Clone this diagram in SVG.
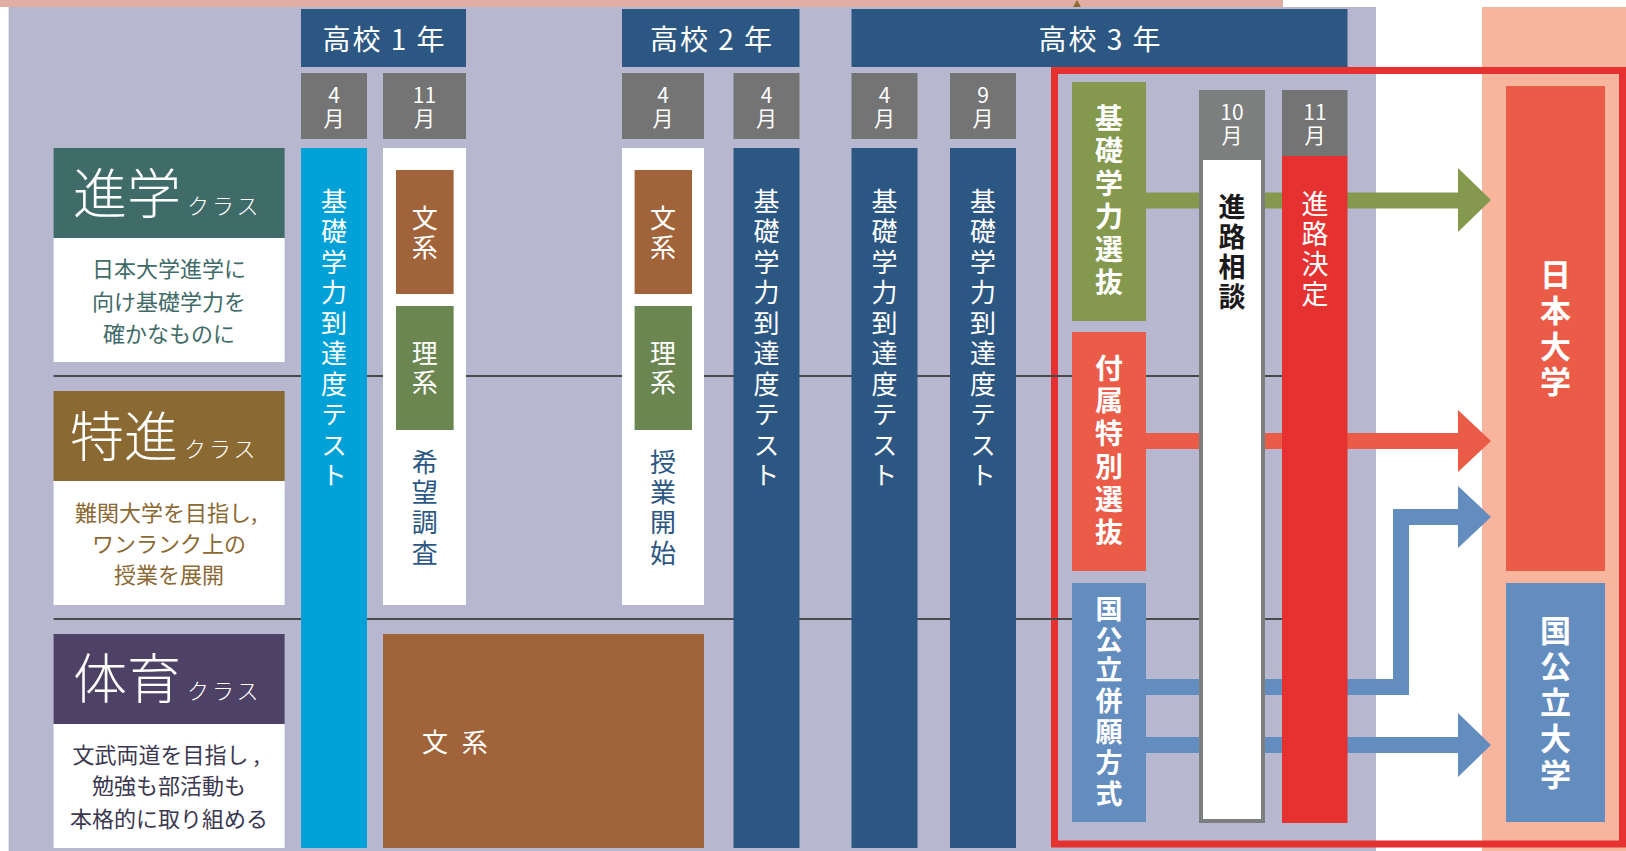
<svg xmlns="http://www.w3.org/2000/svg" width="1626" height="851" viewBox="0 0 1626 851">
<style>
text{font-family:'Noto Sans CJK JP','Noto Sans',sans-serif;}
.hdr{fill:#2c5783;}
.hdrt{fill:#fff;font-size:28px;text-anchor:middle;letter-spacing:2px;}
.mon{fill:#737473;}
.mont{fill:#fff;font-size:21px;text-anchor:middle;}
.v{writing-mode:vertical-rl;text-orientation:upright;}
.f26{font-size:26px;}
.f27{font-size:27px;}
.f28{font-size:28px;}
.f31{font-size:31px;}
.w{fill:#fff;}
.bar{fill:#2c5783;}
.cls{fill:#fff;font-weight:300;}
.big{font-size:54px;}
.sm{font-size:22px;letter-spacing:3px;}
.desc{font-size:22px;text-anchor:middle;}
.div{stroke:#4a4a4a;stroke-width:2;}
.b{font-weight:bold;}
</style>
<g id="background">
<rect x="0" y="0" width="1626" height="851" fill="#fff"/>
<rect x="0" y="0" width="1283" height="7" fill="#e0aea5"/>
<polygon points="1073,7 1077,0 1081,7" fill="#8b6933"/>
<rect x="8.6" y="7" width="1367.4" height="844" fill="#b7b8cf"/>
<rect x="1482" y="7" width="144" height="844" fill="#f7b59e"/>
<rect x="1054.5" y="70.5" width="568" height="773.5" fill="none" stroke="#e53130" stroke-width="7"/>
<line class="div" x1="53.6" y1="376" x2="1290" y2="376"/>
<line class="div" x1="53.6" y1="619" x2="1290" y2="619"/>
</g>
<g id="connectors">
<polygon points="1146,192.5 1458,192.5 1458,168 1491,200 1458,232 1458,208.5 1146,208.5" fill="#84984e"/>
<polygon points="1146,433 1458,433 1458,410 1491,441 1458,472 1458,449 1146,449" fill="#ea5c47"/>
<polygon points="1146,679 1393,679 1393,509 1458,509 1458,486 1491,517 1458,548 1458,525 1409,525 1409,695 1146,695" fill="#648dbf"/>
<polygon points="1146,737 1458,737 1458,713 1491,745 1458,777 1458,753 1146,753" fill="#648dbf"/>
</g>
<g id="year1">
<rect class="hdr" x="301" y="9" width="165" height="58"/>
<text class="hdrt" x="384.5" y="50">高校 1 年</text>
</g>
<g id="year2">
<rect class="hdr" x="622" y="9" width="177.5" height="58"/>
<text class="hdrt" x="712" y="50">高校 2 年</text>
</g>
<g id="year3">
<rect class="hdr" x="851.5" y="9" width="496" height="58"/>
<text class="hdrt" x="1100.5" y="50">高校 3 年</text>
</g>
<g id="m1"><rect class="mon" x="301" y="73" width="66" height="66"/><text class="mont"><tspan x="334" y="103">4</tspan><tspan x="334" y="126">月</tspan></text></g>
<g id="m2"><rect class="mon" x="383" y="73" width="83" height="66"/><text class="mont"><tspan x="424.5" y="103">11</tspan><tspan x="424.5" y="126">月</tspan></text></g>
<g id="m3"><rect class="mon" x="622" y="73" width="82" height="66"/><text class="mont"><tspan x="663" y="103">4</tspan><tspan x="663" y="126">月</tspan></text></g>
<g id="m4"><rect class="mon" x="733.5" y="73" width="66" height="66"/><text class="mont"><tspan x="766.5" y="103">4</tspan><tspan x="766.5" y="126">月</tspan></text></g>
<g id="m5"><rect class="mon" x="851.5" y="73" width="66" height="66"/><text class="mont"><tspan x="884.5" y="103">4</tspan><tspan x="884.5" y="126">月</tspan></text></g>
<g id="m6"><rect class="mon" x="950" y="73" width="66" height="66"/><text class="mont"><tspan x="983" y="103">9</tspan><tspan x="983" y="126">月</tspan></text></g>
<g id="class-shingaku">
<rect x="53.6" y="148" width="231" height="90" fill="#3f6b68"/>
<rect x="53.6" y="238" width="231" height="124" fill="#fff"/>
<text class="cls" x="73" y="214"><tspan class="big">進学</tspan><tspan class="sm" dx="6">クラス</tspan></text>
<text class="desc" fill="#3f6b68"><tspan x="169" y="277">日本大学進学に</tspan><tspan x="169" y="310">向け基礎学力を</tspan><tspan x="169" y="342">確かなものに</tspan></text>
</g>
<g id="class-tokushin">
<rect x="53.6" y="391" width="231" height="90" fill="#8b6933"/>
<rect x="53.6" y="481" width="231" height="124" fill="#fff"/>
<text class="cls" x="70" y="457"><tspan class="big">特進</tspan><tspan class="sm" dx="6">クラス</tspan></text>
<text class="desc" fill="#8b6933"><tspan x="166" y="521">難関大学を目指し,</tspan><tspan x="169" y="552">ワンランク上の</tspan><tspan x="169" y="583">授業を展開</tspan></text>
</g>
<g id="class-taiiku">
<rect x="53.6" y="634" width="231" height="90" fill="#4d4266"/>
<rect x="53.6" y="724" width="231" height="124" fill="#fff"/>
<text class="cls" x="73" y="699"><tspan class="big">体育</tspan><tspan class="sm" dx="6">クラス</tspan></text>
<text class="desc" fill="#3b3850"><tspan x="166" y="763">文武両道を目指し ,</tspan><tspan x="169" y="794">勉強も部活動も</tspan><tspan x="169" y="827">本格的に取り組める</tspan></text>
</g>
<g id="test1">
<rect x="301" y="148" width="66" height="700" fill="#00a1d7"/>
<text class="v w f26" x="334" y="188" letter-spacing="4.5">基礎学力到達度テスト</text>
</g>
<g id="survey">
<rect x="383" y="148" width="83" height="457" fill="#fff"/>
<rect x="396" y="170" width="57.6" height="124" fill="#a1643a"/>
<text class="v w f26" x="424.8" y="205" letter-spacing="3">文系</text>
<rect x="396" y="306" width="57.6" height="124" fill="#6b8651"/>
<text class="v w f26" x="424.8" y="340" letter-spacing="3">理系</text>
<text class="v f26" x="424.8" y="449" letter-spacing="4.3" fill="#2c5783">希望調査</text>
</g>
<g id="bunkei-taiiku">
<rect x="383" y="634" width="321" height="214" fill="#a1643a"/>
<text x="422" y="752" font-size="26" fill="#fff" letter-spacing="4">文 系</text>
</g>
<g id="start">
<rect x="622" y="148" width="82" height="457" fill="#fff"/>
<rect x="634.6" y="170" width="57.4" height="124" fill="#a1643a"/>
<text class="v w f26" x="663" y="205" letter-spacing="3">文系</text>
<rect x="634.6" y="306" width="57.4" height="124" fill="#6b8651"/>
<text class="v w f26" x="663" y="340" letter-spacing="3">理系</text>
<text class="v f26" x="663" y="449" letter-spacing="4.3" fill="#2c5783">授業開始</text>
</g>
<g id="test2"><rect class="bar" x="733.5" y="148" width="66" height="700"/><text class="v w f26" x="766.5" y="188" letter-spacing="4.5">基礎学力到達度テスト</text></g>
<g id="test3"><rect class="bar" x="851.5" y="148" width="66" height="700"/><text class="v w f26" x="884.5" y="188" letter-spacing="4.5">基礎学力到達度テスト</text></g>
<g id="test4"><rect class="bar" x="950" y="148" width="66" height="700"/><text class="v w f26" x="983" y="188" letter-spacing="4.5">基礎学力到達度テスト</text></g>
<g id="kiso-senbatsu"><rect x="1072" y="82" width="74" height="239" fill="#84984e"/><text class="v w b f28" x="1109" y="104" letter-spacing="4.8">基礎学力選抜</text></g>
<g id="fuzoku-senbatsu"><rect x="1072" y="332" width="74" height="239" fill="#ea5c47"/><text class="v w b f28" x="1109" y="354" letter-spacing="4.8">付属特別選抜</text></g>
<g id="kokkoritsu-heigan"><rect x="1072" y="583" width="74" height="239" fill="#648dbf"/><text class="v w b f27" x="1109" y="595" letter-spacing="3.8">国公立併願方式</text></g>
<g id="soudan">
<rect x="1199" y="90" width="66" height="733" fill="#7d7e7e"/>
<rect x="1203" y="160" width="58" height="659" fill="#fff"/>
<text class="mont"><tspan x="1232" y="120">10</tspan><tspan x="1232" y="143">月</tspan></text>
<text class="v b f27" x="1232" y="193" letter-spacing="3" fill="#1a1a1a">進路相談</text>
</g>
<g id="kettei">
<rect class="mon" x="1282" y="90" width="65.5" height="66"/>
<text class="mont"><tspan x="1315" y="120">11</tspan><tspan x="1315" y="143">月</tspan></text>
<rect x="1282" y="156" width="65.5" height="667" fill="#e53130"/>
<text class="v w f27" x="1315" y="190" letter-spacing="3">進路決定</text>
</g>
<g id="nihon-univ"><rect x="1506" y="86" width="99" height="485" fill="#ea5c47"/><text class="v w b f31" x="1555.5" y="259" letter-spacing="4.7">日本大学</text></g>
<g id="kokkoritsu-univ"><rect x="1506" y="583" width="99" height="239" fill="#648dbf"/><text class="v w b f31" x="1555.5" y="615" letter-spacing="5">国公立大学</text></g>
</svg>
